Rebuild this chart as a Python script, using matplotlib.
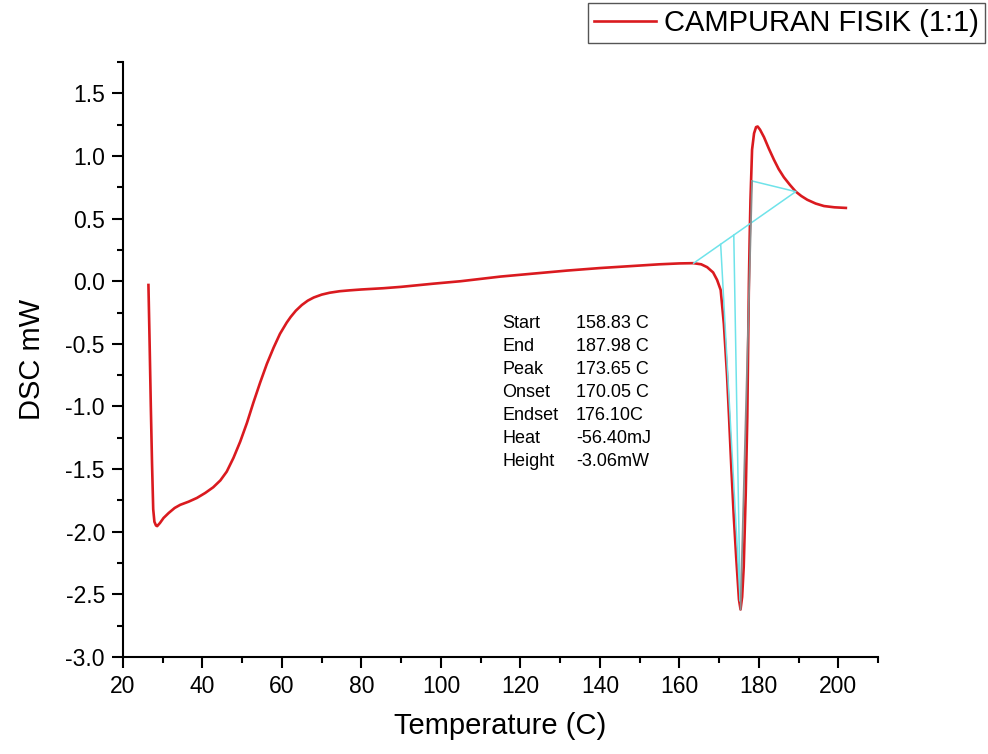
import matplotlib.pyplot as plt
from matplotlib.ticker import MultipleLocator, FormatStrFormatter

plt.rcParams['font.family'] = ['Liberation Sans', 'DejaVu Sans']

# DSC curve
temp = [26.4, 26.7, 27.0, 27.3, 27.6, 27.9, 28.3, 28.6, 29.3, 30.2, 31.5, 33.0,
        34.4, 36.5, 38.6, 40.7, 42.7, 44.5, 46.1, 47.8, 49.5, 51.2, 52.8, 54.5,
        56.2, 57.9, 59.5, 61.2, 62.2, 63.5, 65.0, 66.5, 68.0, 70.0, 72.0, 74.5,
        77.0, 80.0, 85.5, 90.0, 98.0, 105.0, 115.0, 123.0, 131.8, 140.0, 148.5,
        155.0, 160.0, 163.5, 165.5, 167.0, 168.5, 169.5, 170.4, 171.2, 172.0,
        172.5, 173.1, 173.7, 174.3, 175.0, 175.4, 175.8, 176.2, 176.7, 177.1,
        177.5, 177.7, 177.9, 178.3, 178.8, 179.3, 179.7, 180.3, 181.3, 182.5,
        183.8, 185.0, 186.3, 187.8, 189.3, 190.7, 192.2, 194.3, 196.4, 199.0, 201.9]
dsc = [-0.03, -0.5, -1.0, -1.45, -1.82, -1.92, -1.95, -1.955, -1.93, -1.89, -1.85, -1.81,
       -1.785, -1.76, -1.73, -1.69, -1.645, -1.59, -1.52, -1.41, -1.28, -1.13, -0.97, -0.81,
       -0.66, -0.53, -0.42, -0.33, -0.285, -0.235, -0.19, -0.155, -0.13, -0.107, -0.092, -0.08,
       -0.073, -0.066, -0.056, -0.045, -0.02, 0.0, 0.037, 0.06, 0.085, 0.105, 0.122,
       0.135, 0.142, 0.144, 0.135, 0.112, 0.07, 0.01, -0.07, -0.34, -0.75,
       -1.08, -1.5, -1.88, -2.2, -2.54, -2.62, -2.52, -2.28, -1.7, -1.08,
       -0.02, 0.35, 0.65, 1.05, 1.18, 1.23, 1.235, 1.21, 1.15, 1.06,
       0.97, 0.895, 0.83, 0.77, 0.715, 0.68, 0.65, 0.62, 0.60, 0.59, 0.585]

# peak integration construction lines
base_t = [163.6, 189.3, 178.3]
base_y = [0.144, 0.715, 0.80]
peak_t = 175.4
peak_y = -2.62
drop_t = [170.4, 173.7]
drop_y = [0.295, 0.368]

labels = ['Start', 'End', 'Peak', 'Onset', 'Endset', 'Heat', 'Height']
values = ['158.83 C', '187.98 C', '173.65 C', '170.05 C', '176.10C', '-56.40mJ', '-3.06mW']

fig = plt.figure(figsize=(9.88, 7.54), dpi=100)
ax = fig.add_axes([0.1245, 0.1286, 0.7642, 0.7892])

line, = ax.plot(temp, dsc, color='#da1a1f', lw=1.9, label='CAMPURAN FISIK (1:1)', zorder=2)
ax.plot(base_t, base_y, color='#6fe3ea', lw=1.1, zorder=3)
for t, y in zip(drop_t, drop_y):
    ax.plot([t, peak_t - 0.1], [y, peak_y + 0.07], color='#6fe3ea', lw=1.1, zorder=3)
ax.plot([base_t[2], peak_t], [base_y[2], peak_y], color='#8c8c8c', lw=1.3, zorder=3)

for i, (lab, val) in enumerate(zip(labels, values)):
    y = -0.34 - i * 0.1835
    ax.text(115.5, y, lab, fontsize=13, va='center', ha='left')
    ax.text(134.0, y, val, fontsize=13, va='center', ha='left')

ax.set_xlim(20, 210)
ax.set_ylim(-3.0, 1.75)
ax.xaxis.set_major_locator(MultipleLocator(20))
ax.xaxis.set_minor_locator(MultipleLocator(10))
ax.yaxis.set_major_locator(MultipleLocator(0.5))
ax.yaxis.set_minor_locator(MultipleLocator(0.25))
ax.yaxis.set_major_formatter(FormatStrFormatter('%.1f'))

for s in ['top', 'right']:
    ax.spines[s].set_visible(False)
for s in ['left', 'bottom']:
    ax.spines[s].set_linewidth(1.5)
ax.tick_params(which='major', direction='out', length=8, width=1.5, labelsize=16.5, pad=5)
ax.tick_params(which='minor', direction='out', length=4.5, width=1.5)

ax.set_xlabel('Temperature (C)', fontsize=21, labelpad=10)
ax.set_ylabel('DSC mW', fontsize=21, labelpad=14)

fig.legend(handles=[line], loc='upper right', bbox_to_anchor=(985 / 988, 1 - 3 / 754),
           fontsize=21, frameon=True, fancybox=False, edgecolor='#555555',
           framealpha=1, borderpad=0.2, handlelength=2.1, handletextpad=0.3,
           borderaxespad=0)

fig.savefig('out.png', dpi=100)
